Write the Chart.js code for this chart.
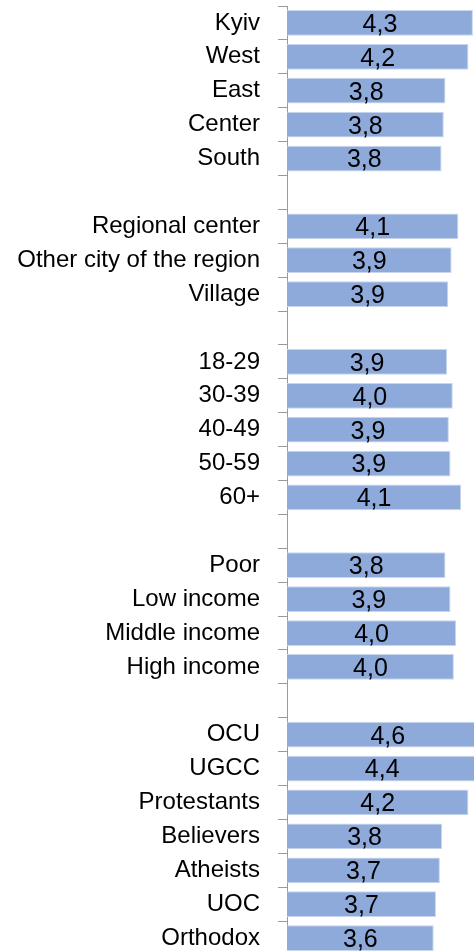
<!DOCTYPE html>
<html>
<head>
<meta charset="utf-8">
<script src="https://cdn.jsdelivr.net/npm/chart.js@4"></script>
<style>
    html, body { margin: 0; padding: 0; background: #fff; overflow: hidden; }
    #wrap { width: 511px; height: 955px; }
</style>
</head>
<body>
<div id="wrap"><canvas id="scoreChart" width="511" height="955"></canvas></div>
<script>
// Categories (blank strings are the gaps between groups)
const categories = [
    'Kyiv', 'West', 'East', 'Center', 'South', '',
    'Regional center', 'Other city of the region', 'Village', '',
    '18-29', '30-39', '40-49', '50-59', '60+', '',
    'Poor', 'Low income', 'Middle income', 'High income', '',
    'OCU', 'UGCC', 'Protestants', 'Believers', 'Atheists', 'UOC', 'Orthodox'
];

// Average scores
const scores = [
    4.32, 4.24, 3.83, 3.80, 3.76, null,
    4.06, 3.94, 3.88, null,
    3.86, 3.96, 3.89, 3.92, 4.11, null,
    3.83, 3.92, 4.02, 3.98, null,
    4.60, 4.40, 4.24, 3.77, 3.73, 3.66, 3.62
];

const axisMin = 1;
const axisMax = 5;

const fontFamily = '"Liberation Sans", Arial, sans-serif';

// Value labels in the middle of every bar
const valueLabels = {
    id: 'valueLabels',
    afterDatasetsDraw(chart) {
        const ctx = chart.ctx;
        const meta = chart.getDatasetMeta(0);
        const xScale = chart.scales.x;
        const left = xScale.getPixelForValue(axisMin);
        ctx.save();
        ctx.font = '25px ' + fontFamily;
        ctx.fillStyle = '#000';
        ctx.textAlign = 'center';
        ctx.textBaseline = 'middle';
        meta.data.forEach((bar, i) => {
            const v = scores[i];
            if (v === null) return;
            const cx = (xScale.getPixelForValue(v) + left) / 2;
            ctx.fillText(v.toFixed(1).replace('.', ','), cx, bar.y + 2);
        });
        ctx.restore();
    }
};

new Chart(document.getElementById('scoreChart'), {
    type: 'bar',
    data: {
        labels: categories,
        datasets: [{
            data: scores,
            backgroundColor: '#8eaadb',
            borderColor: '#c9d6ee',
            borderWidth: 1,
            borderSkipped: 'left',
            categoryPercentage: 1,
            barPercentage: 0.76
        }]
    },
    options: {
        indexAxis: 'y',
        responsive: false,
        animation: false,
        layout: { padding: { top: 6, right: 0, bottom: 0, left: 0 } },
        plugins: {
            legend: { display: false },
            tooltip: { enabled: false }
        },
        scales: {
            x: {
                display: false,
                min: axisMin,
                max: axisMax
            },
            y: {
                offset: true,
                afterFit(scale) {
                    scale.width = 287;
                    // no extra room above/below for the end labels
                    scale.paddingTop = 0;
                    scale.paddingBottom = 0;
                },
                border: { display: true, color: '#9a9a9a', width: 1 },
                grid: {
                    offset: true,
                    drawOnChartArea: false,
                    drawTicks: true,
                    tickLength: 9,
                    tickColor: '#9a9a9a'
                },
                ticks: {
                    color: '#000',
                    padding: 18,
                    font: { family: fontFamily, size: 24 }
                }
            }
        }
    },
    plugins: [valueLabels]
});
</script>
</body>
</html>
